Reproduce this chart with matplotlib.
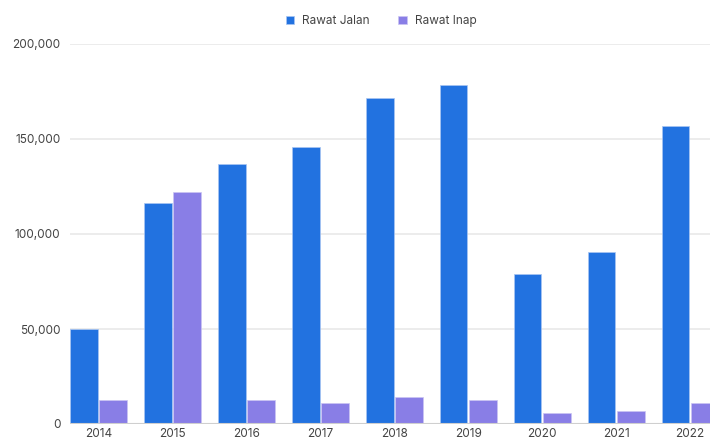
import numpy as np
import matplotlib.pyplot as plt
from matplotlib.ticker import FuncFormatter

tahun = ['2014', '2015', '2016', '2017', '2018', '2019', '2020', '2021', '2022']
rawat_jalan = [50000, 116200, 136700, 145700, 171700, 178300, 78800, 90500, 156800]
rawat_inap = [12700, 122300, 12700, 11200, 14100, 12500, 5600, 7000, 10900]

plt.rcParams['font.family'] = ['Inter', 'DejaVu Sans']

barWidth = 0.375
x = np.arange(len(tahun))

fig = plt.figure(figsize=(7.1, 4.41), dpi=100)
ax = fig.add_axes([70/710, 17/441, 1 - 70/710, 380/441])

ax.bar(x - barWidth/2 - 0.01, rawat_jalan, width=barWidth, color='#2272e0',
       edgecolor='#a9c6f2', linewidth=0.5, label='Rawat Jalan', zorder=3)
ax.bar(x + barWidth/2 + 0.01, rawat_inap, width=barWidth, color='#897ee6',
       edgecolor='#cbc5f3', linewidth=0.5, label='Rawat Inap', zorder=3)

ax.set_ylim(0, 200000)
ax.set_xlim(-0.385, 8.27)
ax.set_yticks([0, 50000, 100000, 150000, 200000])
ax.yaxis.set_major_formatter(FuncFormatter(lambda v, p: f'{int(v):,}'))
ax.set_xticks(x)
ax.set_xticklabels(tahun)
ax.grid(axis='y', color='#e9e9e9', linewidth=1.2, zorder=0)
ax.axhline(0, color='#cfcfcf', linewidth=1.5, zorder=4)
for s in ax.spines.values():
    s.set_visible(False)
ax.tick_params(length=0, labelsize=8.5, colors='#444444')
ax.tick_params(axis='y', pad=7)
ax.tick_params(axis='x', pad=3)

fig.legend(loc='upper center', bbox_to_anchor=(0.537, 0.99), ncol=2, frameon=False,
           fontsize=8.5, handlelength=0.7, handleheight=0.7, columnspacing=2.4,
           handletextpad=0.7, labelcolor='#444444')

fig.savefig('out.png', dpi=100)
